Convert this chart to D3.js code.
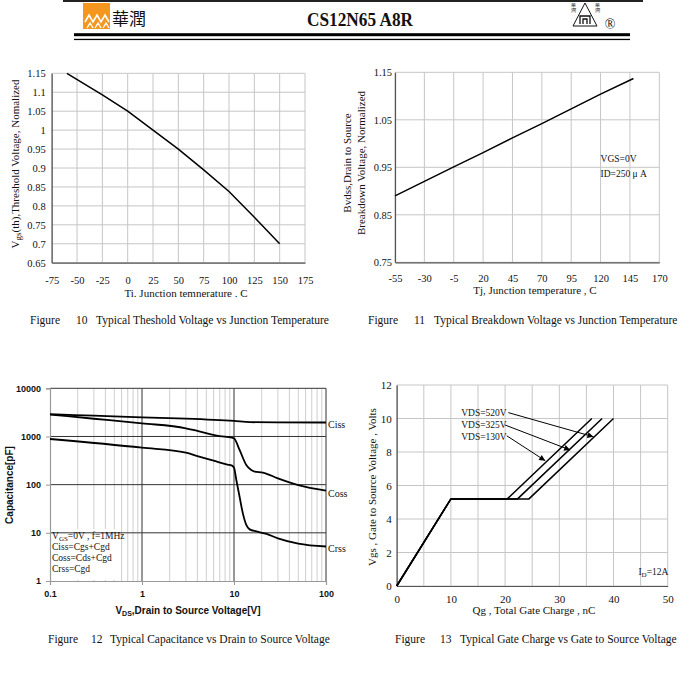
<!DOCTYPE html>
<html>
<head>
<meta charset="utf-8">
<script src="https://cdn.jsdelivr.net/npm/d3@7"></script>
<style>
  body { margin: 0; background: #fff; }
  svg text { font-family: "Liberation Serif", "Times New Roman", serif; fill: #111; }
</style>
</head>
<body>
<svg id="page" width="700" height="676"></svg>
<script>
// ---- Figure 10 : threshold voltage vs Tj
const tjTemp = [-60, -25, 0, 25, 50, 75, 100, 125, 150];
const vthNorm = [1.15, 1.093, 1.05, 1.0, 0.95, 0.895, 0.838, 0.77, 0.70];
const vthXTicks = [-75, -50, -25, 0, 25, 50, 75, 100, 125, 150, 175];
const vthYTicks = [0.65, 0.7, 0.75, 0.8, 0.85, 0.9, 0.95, 1, 1.05, 1.1, 1.15];

// ---- Figure 11 : breakdown voltage vs Tj
const bvTemp = [-55, -5, 20, 45, 70, 95, 120, 148];
const bvNorm = [0.89, 0.951, 0.981, 1.012, 1.042, 1.073, 1.104, 1.137];
const bvXTicks = [-55, -30, -5, 20, 45, 70, 95, 120, 145, 170];
const bvYTicks = [0.75, 0.85, 0.95, 1.05, 1.15];

// ---- Figure 12 : capacitance vs Vds
const vdsCiss = [0.1, 0.3, 1, 3, 10, 15, 30, 100];
const ciss = [2900, 2700, 2500, 2350, 2100, 1980, 1960, 1950];
const vdsCoss = [0.1, 0.3, 1, 3, 4, 7, 9.5, 10, 11.5, 13.6, 15.4, 16.8, 20.6, 30, 50, 100];
const coss = [2850, 2335, 1875, 1480, 1300, 1020, 946, 920, 525, 256, 201, 186, 178, 135, 98, 75];
const vdsCrss = [0.1, 1, 3, 4, 6, 8.5, 9.5, 10, 10.6, 11.5, 12.5, 13.6, 14.8, 17.5, 22.6, 30, 50, 100];
const crss = [887, 586, 461, 393, 315, 260, 248, 225, 125, 56, 25, 14.6, 11.8, 10.7, 9.5, 7.7, 6.0, 5.2];
const capXTicks = [0.1, 1, 10, 100];
const capYTicks = [1, 10, 100, 1000, 10000];

// ---- Figure 13 : gate charge
const qg130 = [0, 10, 20.4, 36];
const qg325 = [0, 10, 22.3, 37.9];
const qg520 = [0, 10, 24.4, 40];
const vgsCurve = [0, 5.2, 5.2, 10];
const gcXTicks = [0, 10, 20, 30, 40, 50];
const gcXGrid = [0, 5, 10, 15, 20, 25, 30, 35, 40, 45, 50];
const gcYTicks = [0, 2, 4, 6, 8, 10, 12];

const SANS = '"Liberation Sans", Arial, sans-serif';
const svg = d3.select("#page");

svg.append("defs").append("marker")
  .attr("id", "arrow")
  .attr("viewBox", "0 0 10 10")
  .attr("refX", 10).attr("refY", 5)
  .attr("markerWidth", 9).attr("markerHeight", 6)
  .attr("markerUnits", "userSpaceOnUse")
  .attr("orient", "auto")
  .append("path").attr("d", "M0,0L10,5L0,10Z").attr("fill", "#000");

drawHeader();
drawThreshold();
drawBreakdown();
drawCapacitance();
drawGateCharge();
drawCaptions();

function drawHeader() {
  svg.append("line").attr("x1", 63).attr("x2", 643).attr("y1", 1).attr("y2", 1)
    .attr("stroke", "#222").attr("stroke-width", 2);
  // company logo
  svg.append("rect").attr("x", 83).attr("y", 3).attr("width", 27).attr("height", 26).attr("fill", "#f5961e");
  svg.append("path").attr("d", "M85,22L89,15L93,22L97,15L101,22L105,15L109,22")
    .attr("fill", "none").attr("stroke", "#fff").attr("stroke-width", 1.6);
  svg.append("path").attr("d", "M87,28L90,23L93,28M95,28L98,23L101,28M103,28L106,23L109,28")
    .attr("fill", "none").attr("stroke", "#fff").attr("stroke-width", 1.4);
  svg.append("text").attr("x", 112).attr("y", 25)
    .style("font-family", '"Noto Sans CJK TC"').style("font-size", "17px")
    .text("華潤");
  svg.append("text").attr("x", 360).attr("y", 26).attr("text-anchor", "middle")
    .attr("textLength", 106).attr("lengthAdjust", "spacingAndGlyphs")
    .style("font-size", "18px").style("font-weight", "bold")
    .text("CS12N65 A8R");
  // right trade mark
  svg.append("path").attr("d", "M585,3L573,26L597,26Z").attr("fill", "none").attr("stroke", "#111").attr("stroke-width", 1);
  svg.append("path").attr("d", "M580,24V16H590V24M583,24V19H587V24").attr("fill", "none").attr("stroke", "#111").attr("stroke-width", 1.3);
  svg.append("text").attr("x", 571).attr("y", 7).style("font-size", "4.5px").text("華");
  svg.append("text").attr("x", 571).attr("y", 12).style("font-size", "4.5px").text("潤");
  svg.append("text").attr("x", 595).attr("y", 7).style("font-size", "4.5px").text("華");
  svg.append("text").attr("x", 595).attr("y", 12).style("font-size", "4.5px").text("潤");
  svg.append("text").attr("x", 610).attr("y", 29).attr("text-anchor", "middle").style("font-size", "14px").text("®");
  svg.append("rect").attr("x", 74).attr("y", 33.2).attr("width", 556).attr("height", 3).attr("fill", "#000");
  svg.append("rect").attr("x", 74).attr("y", 38.8).attr("width", 556).attr("height", 1.3).attr("fill", "#000");
}

function gridLines(g, x, y, xs, ys, color) {
  let [x0, x1] = x.range();
  let [y1, y0] = y.range();
  g.append("g").selectAll("line").data(xs).join("line")
    .attr("x1", d => x(d)).attr("x2", d => x(d)).attr("y1", y0).attr("y2", y1)
    .attr("stroke", color).attr("stroke-width", 1);
  g.append("g").selectAll("line").data(ys).join("line")
    .attr("x1", x0).attr("x2", x1).attr("y1", d => y(d)).attr("y2", d => y(d))
    .attr("stroke", color).attr("stroke-width", 1);
}

function axes(g, x, y, xTicks, yTicks, opt) {
  let y1 = y.range()[0];
  let x0 = x.range()[0];
  let xa = g.append("g").attr("transform", "translate(0," + y1 + ")")
    .call(d3.axisBottom(x).tickValues(xTicks).tickSize(opt.tick || 0).tickPadding(opt.padX).tickFormat(opt.fmtX || (d => d)));
  let ya = g.append("g").attr("transform", "translate(" + x0 + ",0)")
    .call(d3.axisLeft(y).tickValues(yTicks).tickSize(opt.tick || 0).tickPadding(opt.padY).tickFormat(opt.fmtY || (d => d)));
  [xa, ya].forEach(a => {
    a.select(".domain").attr("stroke", opt.axisColor).attr("stroke-width", 1.2);
    a.selectAll(".tick line").attr("stroke", opt.axisColor);
    a.selectAll("text").style("font-family", opt.font).style("font-size", opt.size)
      .style("font-weight", opt.weight || "normal").attr("fill", opt.textColor || "#111");
  });
}

function drawThreshold() {
  let x = d3.scaleLinear().domain([-75, 175]).range([51.7, 305]);
  let y = d3.scaleLinear().domain([0.65, 1.15]).range([262.7, 73.3]);
  let g = svg.append("g");
  gridLines(g, x, y, vthXTicks, vthYTicks, "#c6c6c6");
  axes(g, x, y, vthXTicks, vthYTicks, {
    padX: 14, padY: 6, axisColor: "#555", font: "Liberation Serif", size: "10.5px",
    fmtY: d => d3.format("")(+d.toFixed(2))
  });
  let line = d3.line().x(d => x(d[0])).y(d => y(d[1]));
  g.append("path").datum(d3.zip(tjTemp, vthNorm)).attr("d", line)
    .attr("fill", "none").attr("stroke", "#000").attr("stroke-width", 1.5);
  let yt = g.append("text").attr("transform", "translate(19,164) rotate(-90)")
    .attr("text-anchor", "middle").style("font-size", "11px");
  yt.append("tspan").text("V");
  yt.append("tspan").attr("dy", 2).style("font-size", "9px").text("gs");
  yt.append("tspan").attr("dy", -2).text("(th),Threshold Voltage, Nomalized");
  g.append("text").attr("x", 186).attr("y", 296.5).attr("text-anchor", "middle")
    .style("font-size", "11px").text("Ti. Junction temnerature . C");
}

function drawBreakdown() {
  let x = d3.scaleLinear().domain([-55, 170]).range([395, 659.3]);
  let y = d3.scaleLinear().domain([0.75, 1.15]).range([262.3, 72.3]);
  let g = svg.append("g");
  gridLines(g, x, y, bvXTicks, bvYTicks, "#c6c6c6");
  axes(g, x, y, bvXTicks, bvYTicks, {
    padX: 12, padY: 3, axisColor: "#555", font: "Liberation Serif", size: "10.5px",
    fmtY: d => d.toFixed(2).replace(/0$/, "")
  });
  let line = d3.line().x(d => x(d[0])).y(d => y(d[1]));
  g.append("path").datum(d3.zip(bvTemp, bvNorm)).attr("d", line)
    .attr("fill", "none").attr("stroke", "#000").attr("stroke-width", 1.5);
  g.append("text").attr("x", x(120)).attr("y", y(0.962)).style("font-size", "9.5px").text("VGS=0V");
  g.append("text").attr("x", x(120)).attr("y", y(0.93)).style("font-size", "9.5px").text("ID=250 μ A");
  g.append("text").attr("transform", "translate(351,163) rotate(-90)").attr("text-anchor", "middle")
    .style("font-size", "11px").text("Bvdss,Drain to Source");
  g.append("text").attr("transform", "translate(365,163) rotate(-90)").attr("text-anchor", "middle")
    .style("font-size", "11px").text("Breakdown Voltage, Normalized");
  g.append("text").attr("x", 535).attr("y", 293.5).attr("text-anchor", "middle")
    .style("font-size", "11px").text("Tj, Junction temperature , C");
}

function drawCapacitance() {
  let x = d3.scaleLog().domain([0.1, 100]).range([50, 326]);
  let y = d3.scaleLog().domain([1, 10000]).range([581, 388.3]);
  let g = svg.append("g");
  let minorX = x.ticks().filter(d => capXTicks.indexOf(d) < 0);
  g.append("g").selectAll("line").data(minorX).join("line")
    .attr("x1", d => x(d)).attr("x2", d => x(d)).attr("y1", 388.3).attr("y2", 581)
    .attr("stroke", "#cfcfcf").attr("stroke-width", 1);
  // legend box hides grid
  g.append("rect").attr("x", 51).attr("y", 529).attr("width", 69).attr("height", 51).attr("fill", "#fff");
  gridLines(g, x, y, capXTicks.slice(1), capYTicks.slice(1), "#333");
  axes(g, x, y, capXTicks, capYTicks, {
    tick: 4, padX: 6, padY: 5, axisColor: "#999", font: SANS, size: "9px", weight: "bold", textColor: "#333",
    fmtX: d => String(d), fmtY: d => String(d)
  });
  let line = d3.line().x(d => x(d[0])).y(d => y(d[1])).curve(d3.curveMonotoneX);
  [[vdsCiss, ciss], [vdsCoss, coss], [vdsCrss, crss]].forEach(s => {
    g.append("path").datum(d3.zip(s[0], s[1])).attr("d", line)
      .attr("fill", "none").attr("stroke", "#000").attr("stroke-width", 1.8);
  });
  g.append("text").attr("x", 328).attr("y", y(ciss[ciss.length - 1]) + 5).style("font-size", "10px").text("Ciss");
  g.append("text").attr("x", 328).attr("y", y(coss[coss.length - 1]) + 6).style("font-size", "10px").text("Coss");
  g.append("text").attr("x", 328).attr("y", y(crss[crss.length - 1]) + 5).style("font-size", "10px").text("Crss");
  let t = g.append("text").attr("x", 52).attr("y", 539).style("font-size", "9.5px");
  t.append("tspan").text("V");
  t.append("tspan").attr("dy", 2).style("font-size", "7px").text("GS");
  t.append("tspan").attr("dy", -2).text("=0V , f=1MHz");
  g.append("text").attr("x", 52).attr("y", 550).style("font-size", "9.5px").text("Ciss=Cgs+Cgd");
  g.append("text").attr("x", 52).attr("y", 561).style("font-size", "9.5px").text("Coss=Cds+Cgd");
  g.append("text").attr("x", 52).attr("y", 571.5).style("font-size", "9.5px").text("Crss=Cgd");
  g.append("text").attr("transform", "translate(12.5,485) rotate(-90)").attr("text-anchor", "middle")
    .style("font-family", SANS).style("font-size", "10px").style("font-weight", "bold").text("Capacitance[pF]");
  let xt = g.append("text").attr("x", 188).attr("y", 613.5).attr("text-anchor", "middle")
    .style("font-family", SANS).style("font-size", "10px").style("font-weight", "bold");
  xt.append("tspan").text("V");
  xt.append("tspan").attr("dy", 2).style("font-size", "7px").text("DS");
  xt.append("tspan").attr("dy", -2).text(",Drain to Source Voltage[V]");
}

function drawGateCharge() {
  let x = d3.scaleLinear().domain([0, 50]).range([396.7, 667.7]);
  let y = d3.scaleLinear().domain([0, 12]).range([586, 385]);
  let g = svg.append("g");
  gridLines(g, x, y, gcXGrid, gcYTicks, "#c6c6c6");
  axes(g, x, y, gcXTicks, gcYTicks, {
    padX: 9, padY: 5, axisColor: "#555", font: "Liberation Serif", size: "11px"
  });
  let line = d3.line().x(d => x(d[0])).y(d => y(d[1]));
  [qg130, qg325, qg520].forEach(q => {
    g.append("path").datum(d3.zip(q, vgsCurve)).attr("d", line)
      .attr("fill", "none").attr("stroke", "#000").attr("stroke-width", 1.5);
  });
  let labels = [["VDS=520V", 10.15, [20.6, 10.35], [36.3, 8.91]],
                ["VDS=325V", 9.42, [20.0, 9.61], [32.0, 8.12]],
                ["VDS=130V", 8.72, [20.3, 8.97], [27.4, 7.48]]];
  labels.forEach(l => {
    g.append("text").attr("x", x(11.9)).attr("y", y(l[1])).style("font-size", "9.5px").text(l[0]);
    g.append("line").attr("x1", x(l[2][0])).attr("y1", y(l[2][1])).attr("x2", x(l[3][0])).attr("y2", y(l[3][1]))
      .attr("stroke", "#000").attr("stroke-width", 1).attr("marker-end", "url(#arrow)");
  });
  let id = g.append("text").attr("x", x(44.6)).attr("y", y(0.65)).style("font-size", "9.5px");
  id.append("tspan").text("I");
  id.append("tspan").attr("dy", 2).style("font-size", "7px").text("D");
  id.append("tspan").attr("dy", -2).text("=12A");
  g.append("text").attr("transform", "translate(375.5,487) rotate(-90)").attr("text-anchor", "middle")
    .style("font-size", "11px").text("Vgs , Gate to Source Voltage , Volts");
  g.append("text").attr("x", 534).attr("y", 614).attr("text-anchor", "middle")
    .style("font-size", "11px").text("Qg , Total Gate Charge , nC");
}

function drawCaptions() {
  let caps = [
    [30, 76, 96, 324, "10", "Typical Theshold Voltage vs Junction Temperature"],
    [368, 414, 434, 324, "11", "Typical Breakdown Voltage vs Junction Temperature"],
    [48, 91, 110, 643, "12", "Typical Capacitance vs Drain to Source Voltage"],
    [395, 440, 460, 643, "13", "Typical Gate Charge vs Gate to Source Voltage"]
  ];
  caps.forEach(c => {
    svg.append("text").attr("x", c[0]).attr("y", c[3]).style("font-size", "11.5px").text("Figure");
    svg.append("text").attr("x", c[1]).attr("y", c[3]).style("font-size", "11.5px").text(c[4]);
    svg.append("text").attr("x", c[2]).attr("y", c[3]).style("font-size", "11.5px").text(c[5]);
  });
}
</script>
</body>
</html>
